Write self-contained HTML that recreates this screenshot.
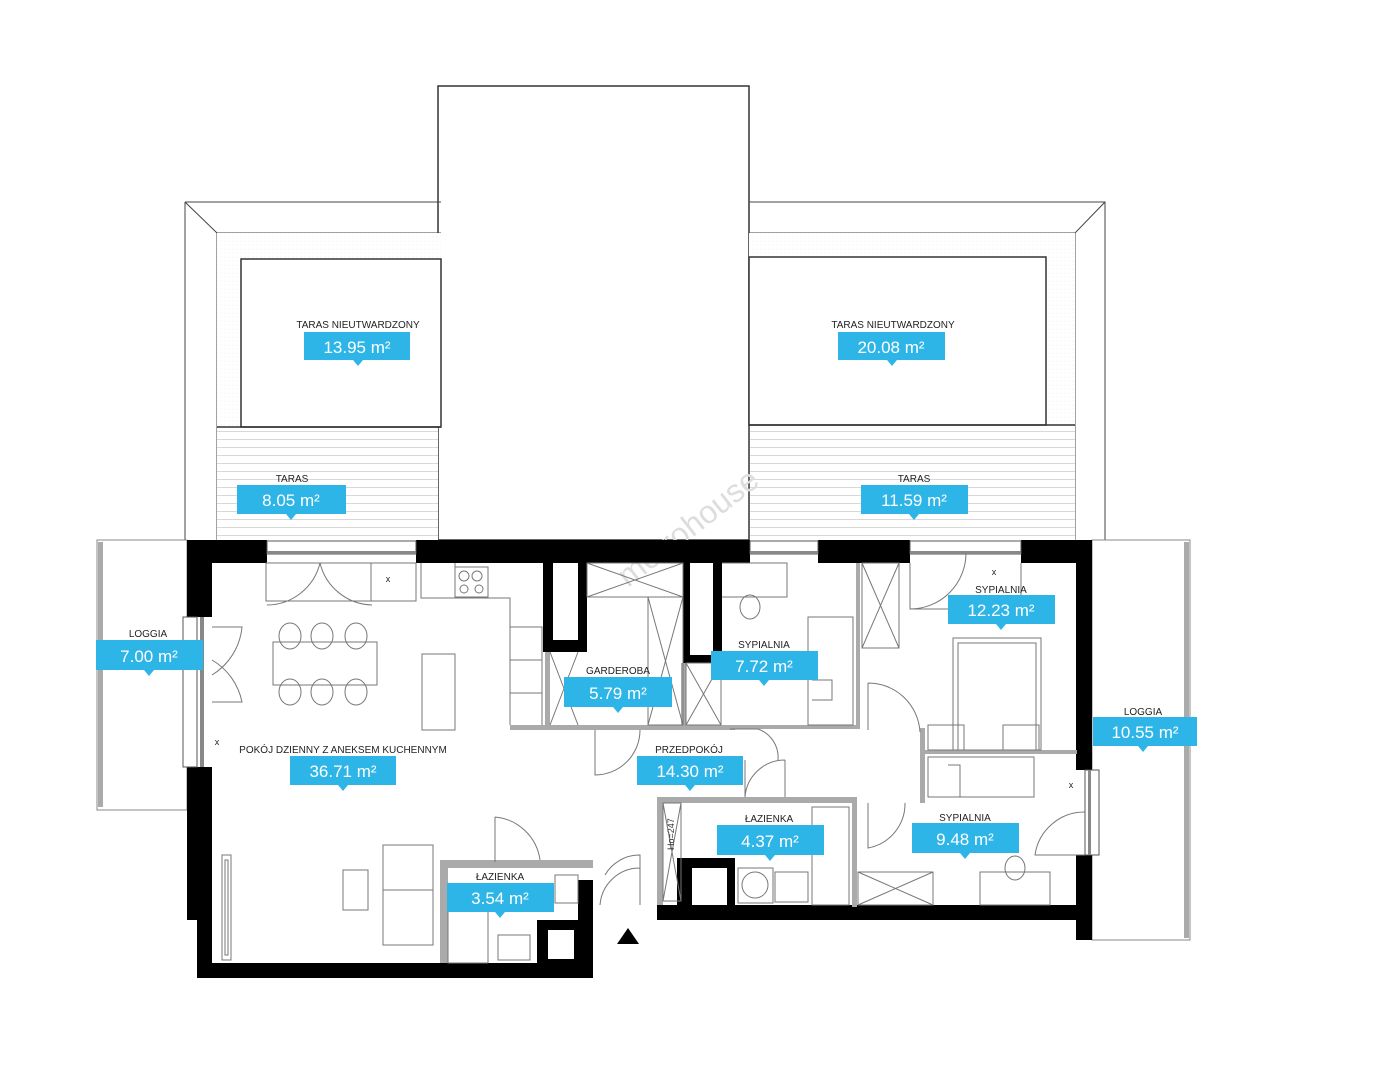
<!DOCTYPE html>
<html><head><meta charset="utf-8"><style>
html,body{margin:0;padding:0;background:#fff}
svg{display:block}
text{font-family:"Liberation Sans",sans-serif}
.lb{font-size:10px;fill:#222;text-anchor:middle}
.ar{font-size:17px;fill:#fff;text-anchor:middle}
</style></head><body>
<svg width="1394" height="1080" viewBox="0 0 1394 1080" xmlns="http://www.w3.org/2000/svg">
<defs>
<pattern id="deck" width="10" height="8" patternUnits="userSpaceOnUse"><rect width="10" height="8" fill="#fff"/><line x1="0" y1="7.5" x2="10" y2="7.5" stroke="#d8d8d8" stroke-width="1"/></pattern>
<pattern id="dots" width="4" height="4" patternUnits="userSpaceOnUse"><rect width="4" height="4" fill="#fff"/><circle cx="1" cy="1" r="0.5" fill="#e2e2e2"/></pattern>
</defs>
<g fill="none" stroke="#444" stroke-width="1">
<rect x="438" y="86" width="311" height="454" stroke="#333" stroke-width="1.5"/>
<path d="M185,202 H441 M185,202 V540 M185,202 L217,233 H441 M217,233 V540" />
<rect x="217" y="233" width="224" height="194" fill="url(#dots)" stroke="none"/>
<rect x="241" y="259" width="200" height="168" fill="#fff" stroke="#333" stroke-width="1.5"/>
<rect x="217" y="428" width="221" height="112" fill="url(#deck)" stroke="none"/>
<line x1="217" y1="427" x2="441" y2="427" stroke="#333" stroke-width="1.5"/>
<path d="M749,202 H1105 V540 M1105,202 L1075,233 H749 M1075,233 V540"/>
<rect x="749" y="233" width="326" height="192" fill="url(#dots)" stroke="none"/>
<rect x="749" y="257" width="297" height="168" fill="#fff" stroke="#333" stroke-width="1.5"/>
<rect x="750" y="426" width="325" height="114" fill="url(#deck)" stroke="none"/>
<line x1="749" y1="425" x2="1075" y2="425" stroke="#333" stroke-width="1.5"/>
<rect x="97" y="540" width="90" height="270" stroke="#888"/>
<rect x="98" y="542" width="5" height="265" fill="#aaa" stroke="none"/>
<rect x="1092" y="540" width="98" height="400" stroke="#888"/>
<rect x="1184" y="542" width="5" height="396" fill="#aaa" stroke="none"/>
</g>
<text x="0" y="0" transform="translate(628,588) rotate(-38)" font-size="32" fill="#ddd" style="font-family:'Liberation Sans',sans-serif">metrohouse</text>
<g fill="#000">
<rect x="187" y="540" width="80" height="23"/>
<rect x="416" y="540" width="334" height="23"/>
<rect x="818" y="540" width="92" height="23"/>
<rect x="1021" y="540" width="71" height="23"/>
<rect x="187" y="540" width="25" height="77"/>
<rect x="187" y="767" width="25" height="153"/>
<rect x="197" y="767" width="15" height="211"/>
<rect x="197" y="963" width="396" height="15"/>
<rect x="578" y="880" width="15" height="98"/>
<rect x="537" y="920" width="56" height="58"/>
<rect x="657" y="905" width="435" height="15"/>
<rect x="677" y="858" width="58" height="49"/>
<rect x="1076" y="540" width="16" height="230"/>
<rect x="1076" y="855" width="16" height="85"/>
<path d="M543,563 H587 V652 H543 Z M553,563 V640 H578 V563 Z" fill-rule="evenodd"/>
<path d="M683,563 H722 V663 H683 Z M690,563 V655 H713 V563 Z" fill-rule="evenodd"/>
</g>
<g fill="#fff"><rect x="548" y="930" width="26" height="29"/><rect x="553" y="563" width="25" height="77"/><rect x="690" y="563" width="23" height="92"/><rect x="692" y="868" width="35" height="37"/></g>
<g fill="#fff" stroke="#555" stroke-width="1">
<rect x="267" y="541" width="149" height="13"/>
<rect x="750" y="541" width="68" height="13"/>
<rect x="910" y="541" width="111" height="13"/>
<rect x="183" y="617" width="14" height="150"/>
<rect x="1085" y="770" width="14" height="85"/>
</g>
<g fill="#888"><rect x="267" y="551" width="149" height="3"/><rect x="750" y="551" width="68" height="3"/><rect x="910" y="551" width="111" height="3"/><rect x="200" y="617" width="4" height="150"/><rect x="1088" y="770" width="3" height="85"/></g>
<g fill="#aaa">
<rect x="510" y="725" width="225" height="5"/>
<rect x="545" y="652" width="5" height="78"/>
<rect x="681" y="663" width="5" height="67"/>
<rect x="722" y="725" width="136" height="4"/>
<rect x="856" y="563" width="4" height="166"/>
<rect x="920" y="728" width="5" height="75"/>
<rect x="925" y="750" width="152" height="4"/>
<rect x="657" y="797" width="200" height="6"/>
<rect x="657" y="797" width="6" height="108"/>
<rect x="852" y="797" width="5" height="110"/>
<rect x="440" y="860" width="153" height="8"/>
<rect x="440" y="860" width="8" height="103"/>
</g>
<g fill="none" stroke="#777" stroke-width="1">
<rect x="266" y="563" width="150" height="38"/>
<line x1="371" y1="563" x2="371" y2="601"/>
<path d="M320,563 A55,55 0 0 1 267,605 M320,563 A55,55 0 0 0 372,605"/>
<rect x="273" y="642" width="104" height="43"/>
<ellipse cx="290" cy="636" rx="11" ry="13"/><ellipse cx="322" cy="636" rx="11" ry="13"/><ellipse cx="356" cy="636" rx="11" ry="13"/>
<ellipse cx="290" cy="692" rx="11" ry="13"/><ellipse cx="322" cy="692" rx="11" ry="13"/><ellipse cx="356" cy="692" rx="11" ry="13"/>
<rect x="422" y="654" width="33" height="76"/>
<path d="M421,563 V598 H510 V725 M455,598 V563"/>
<rect x="455" y="567" width="33" height="30"/>
<circle cx="464" cy="576" r="5"/><circle cx="477" cy="576" r="5"/><circle cx="464" cy="589" r="4"/><circle cx="479" cy="589" r="4"/>
<rect x="510" y="627" width="32" height="33"/><line x1="510" y1="693" x2="542" y2="693"/><line x1="542" y1="627" x2="542" y2="725"/>
<path d="M212,627 H242 A63,63 0 0 1 212,675 M212,702 H242 A63,63 0 0 0 212,660"/>
<path d="M587,563 H683 V597 H587 Z M587,563 L683,597 M683,563 L587,597"/>
<path d="M550,652 L578,725 M578,652 L550,725"/>
<rect x="648" y="597" width="35" height="128"/><path d="M648,597 L683,725 M683,597 L648,725"/>
<rect x="686" y="663" width="35" height="62"/><path d="M686,663 L721,725 M721,663 L686,725"/>
<path d="M722,563 H787 V597 H722"/><ellipse cx="750" cy="607" rx="10" ry="12"/>
<rect x="808" y="617" width="45" height="108"/><path d="M812,680 H832 V700 H812"/>
<rect x="862" y="563" width="37" height="85"/><path d="M862,563 L899,648 M899,563 L862,648"/>
<path d="M910,563 V609 H1021 V563 M910,609 A56,56 0 0 0 966,553"/>
<rect x="953" y="638" width="88" height="112"/><rect x="958" y="643" width="78" height="107"/>
<rect x="928" y="725" width="36" height="25"/><rect x="1003" y="725" width="36" height="25"/>
<rect x="928" y="757" width="106" height="40"/><path d="M948,765 H960 V797"/>
<path d="M730,729 H758 A30,30 0 0 1 778,760 M868,683 A52,52 0 0 1 920,732 M868,683 V730"/>
<path d="M595,730 V775 A45,45 0 0 0 640,730"/>
<path d="M745,760 V797 M785,760 A40,40 0 0 0 745,797 M785,760 V797"/>
<path d="M868,803 V848 A45,45 0 0 0 905,803"/>
<path d="M1085,812 A50,50 0 0 0 1035,855 H1085"/>
<rect x="858" y="872" width="75" height="33"/><path d="M858,872 L933,905 M933,872 L858,905"/>
<rect x="980" y="872" width="70" height="33"/><ellipse cx="1015" cy="868" rx="10" ry="12"/>
<rect x="812" y="807" width="37" height="98"/>
<rect x="738" y="868" width="35" height="35"/><circle cx="755" cy="885" r="13"/>
<rect x="775" y="872" width="33" height="30"/>
<rect x="663" y="803" width="18" height="98"/><path d="M663,803 L681,901 M681,803 L663,901"/>
<rect x="222" y="855" width="9" height="105"/><rect x="225" y="860" width="3" height="95"/>
<rect x="383" y="845" width="50" height="100"/><line x1="383" y1="890" x2="433" y2="890"/>
<rect x="343" y="870" width="25" height="40"/>
<path d="M495,817 A50,50 0 0 1 540,860 M495,817 V862"/>
<path d="M605,875 A40,40 0 0 1 640,855 V905 M600,905 A40,40 0 0 1 640,868"/>
<rect x="448" y="900" width="40" height="63"/>
<rect x="498" y="935" width="32" height="25"/>
<rect x="555" y="875" width="23" height="28"/>
</g>
<g class="lb"><text x="388" y="582" style="font-size:9px">x</text><text x="217" y="745" style="font-size:9px">x</text><text x="994" y="575" style="font-size:9px">x</text><text x="1071" y="788" style="font-size:9px">x</text></g>
<text x="0" y="0" transform="translate(674,850) rotate(-90)" font-size="9" fill="#333">Ho=247</text>
<g>
<text class="lb" x="358" y="328">TARAS NIEUTWARDZONY</text>
<text class="lb" x="893" y="328">TARAS NIEUTWARDZONY</text>
<text class="lb" x="292" y="482">TARAS</text>
<text class="lb" x="914" y="482">TARAS</text>
<text class="lb" x="148" y="637">LOGGIA</text>
<text class="lb" x="618" y="674">GARDEROBA</text>
<text class="lb" x="764" y="648">SYPIALNIA</text>
<text class="lb" x="1001" y="593">SYPIALNIA</text>
<text class="lb" x="1143" y="715">LOGGIA</text>
<text class="lb" x="343" y="753">POKÓJ DZIENNY Z ANEKSEM KUCHENNYM</text>
<text class="lb" x="689" y="753">PRZEDPOKÓJ</text>
<text class="lb" x="769" y="822">ŁAZIENKA</text>
<text class="lb" x="965" y="821">SYPIALNIA</text>
<text class="lb" x="500" y="880">ŁAZIENKA</text>
</g>
<g fill="#2db5e8">
<rect x="304" y="332" width="106" height="28"/><path d="M353,360 L358,366 L363,360Z"/>
<rect x="838" y="332" width="107" height="28"/><path d="M887,360 L892,366 L897,360Z"/>
<rect x="237" y="485" width="109" height="29"/><path d="M286,514 L291,520 L296,514Z"/>
<rect x="861" y="485" width="107" height="29"/><path d="M909,514 L914,520 L919,514Z"/>
<rect x="96" y="640" width="107" height="30"/><path d="M144,670 L149,676 L154,670Z"/>
<rect x="564" y="677" width="108" height="30"/><path d="M613,707 L618,713 L623,707Z"/>
<rect x="711" y="651" width="107" height="29"/><path d="M759,680 L764,686 L769,680Z"/>
<rect x="948" y="595" width="107" height="29"/><path d="M996,624 L1001,630 L1006,624Z"/>
<rect x="1093" y="717" width="104" height="29"/><path d="M1138,746 L1143,752 L1148,746Z"/>
<rect x="290" y="756" width="106" height="29"/><path d="M338,785 L343,791 L348,785Z"/>
<rect x="637" y="756" width="106" height="29"/><path d="M685,785 L690,791 L695,785Z"/>
<rect x="717" y="825" width="107" height="30"/><path d="M765,855 L770,861 L775,855Z"/>
<rect x="912" y="823" width="107" height="30"/><path d="M960,853 L965,859 L970,853Z"/>
<rect x="447" y="883" width="107" height="29"/><path d="M495,912 L500,918 L505,912Z"/>
</g>
<g class="ar">
<text x="357" y="353">13.95 m²</text>
<text x="891" y="353">20.08 m²</text>
<text x="291" y="506">8.05 m²</text>
<text x="914" y="506">11.59 m²</text>
<text x="149" y="662">7.00 m²</text>
<text x="618" y="699">5.79 m²</text>
<text x="764" y="672">7.72 m²</text>
<text x="1001" y="616">12.23 m²</text>
<text x="1145" y="738">10.55 m²</text>
<text x="343" y="777">36.71 m²</text>
<text x="690" y="777">14.30 m²</text>
<text x="770" y="847">4.37 m²</text>
<text x="965" y="845">9.48 m²</text>
<text x="500" y="904">3.54 m²</text>
</g>
<path d="M617,944 L628,928 L639,944Z" fill="#000"/>
</svg>
</body></html>
